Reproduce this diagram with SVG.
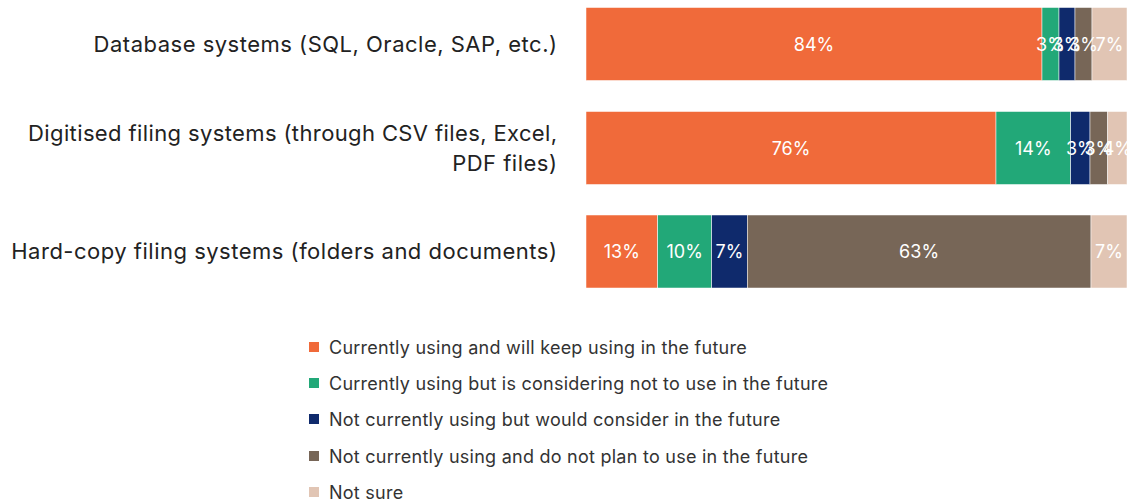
<svg xmlns="http://www.w3.org/2000/svg" width="1129" height="504" viewBox="0 0 1129 504">
  <style>
    .cat { font-family: Inter, "Liberation Sans", sans-serif; font-size: 22px; letter-spacing: 0.5px; fill: #222; text-anchor: end; }
    .tight { letter-spacing: 0.38px; }
    .val { font-family: Inter, "Liberation Sans", sans-serif; font-size: 18px; fill: #fff; text-anchor: middle; }
    .leg { font-family: Inter, "Liberation Sans", sans-serif; font-size: 18px; letter-spacing: 0.25px; fill: #333; }
    .s1 { fill: #F06A3A; }
    .s2 { fill: #22A878; }
    .s3 { fill: #0F2A6C; }
    .s4 { fill: #776657; }
    .s5 { fill: #E1C5B4; }
    .seg { stroke: #fff; stroke-width: 0.5; }
  </style>
  <rect width="1129" height="504" fill="#fff"/>

  <!-- category labels -->
  <g id="labels">
    <text class="cat" x="557.5" y="51.5">Database systems (SQL, Oracle, SAP, etc.)</text>
    <text class="cat tight" x="557.5" y="140.5">Digitised filing systems (through CSV files, Excel,</text>
    <text class="cat" x="557.5" y="170.5">PDF files)</text>
    <text class="cat" x="557.5" y="258.5">Hard-copy filing systems (folders and documents)</text>
  </g>

  <!-- Database systems -->
  <g id="bar-database">
    <rect class="seg s1" x="586" y="7.5" width="456" height="73"/>
    <rect class="seg s2" x="1042" y="7.5" width="17" height="73"/>
    <rect class="seg s3" x="1059" y="7.5" width="16" height="73"/>
    <rect class="seg s4" x="1075" y="7.5" width="17" height="73"/>
    <rect class="seg s5" x="1092" y="7.5" width="35" height="73"/>
    <text class="val" x="814" y="50.5">84%</text>
    <text class="val" x="1050.5" y="50.5">3%</text>
    <text class="val" x="1067" y="50.5">3%</text>
    <text class="val" x="1083.5" y="50.5">3%</text>
    <text class="val" x="1109.5" y="50.5">7%</text>
  </g>

  <!-- Digitised filing systems -->
  <g id="bar-digitised">
    <rect class="seg s1" x="586" y="111.5" width="410" height="73"/>
    <rect class="seg s2" x="996" y="111.5" width="74.7" height="73"/>
    <rect class="seg s3" x="1070.7" y="111.5" width="19.3" height="73"/>
    <rect class="seg s4" x="1090" y="111.5" width="17.7" height="73"/>
    <rect class="seg s5" x="1107.7" y="111.5" width="19.3" height="73"/>
    <text class="val" x="791" y="154.5">76%</text>
    <text class="val" x="1033.3" y="154.5">14%</text>
    <text class="val" x="1080.3" y="154.5">3%</text>
    <text class="val" x="1098.8" y="154.5">3%</text>
    <text class="val" x="1117.3" y="154.5">4%</text>
  </g>

  <!-- Hard-copy filing systems -->
  <g id="bar-hardcopy">
    <rect class="seg s1" x="586" y="215" width="71.7" height="73"/>
    <rect class="seg s2" x="657.7" y="215" width="54" height="73"/>
    <rect class="seg s3" x="711.7" y="215" width="35.6" height="73"/>
    <rect class="seg s4" x="747.3" y="215" width="343.7" height="73"/>
    <rect class="seg s5" x="1091" y="215" width="36" height="73"/>
    <text class="val" x="621.8" y="258">13%</text>
    <text class="val" x="684.7" y="258">10%</text>
    <text class="val" x="729.5" y="258">7%</text>
    <text class="val" x="919.1" y="258">63%</text>
    <text class="val" x="1109" y="258">7%</text>
  </g>

  <!-- legend -->
  <g id="legend">
    <rect class="s1" x="309" y="342" width="10" height="10"/>
    <text class="leg" x="329" y="353.5">Currently using and will keep using in the future</text>
    <rect class="s2" x="309" y="378" width="10" height="10"/>
    <text class="leg" x="329" y="389.5">Currently using but is considering not to use in the future</text>
    <rect class="s3" x="309" y="414" width="10" height="10"/>
    <text class="leg" x="329" y="425.5">Not currently using but would consider in the future</text>
    <rect class="s4" x="309" y="451" width="10" height="10"/>
    <text class="leg" x="329" y="462.5">Not currently using and do not plan to use in the future</text>
    <rect class="s5" x="309" y="487" width="10" height="10"/>
    <text class="leg" x="329" y="498.5">Not sure</text>
  </g>
</svg>
